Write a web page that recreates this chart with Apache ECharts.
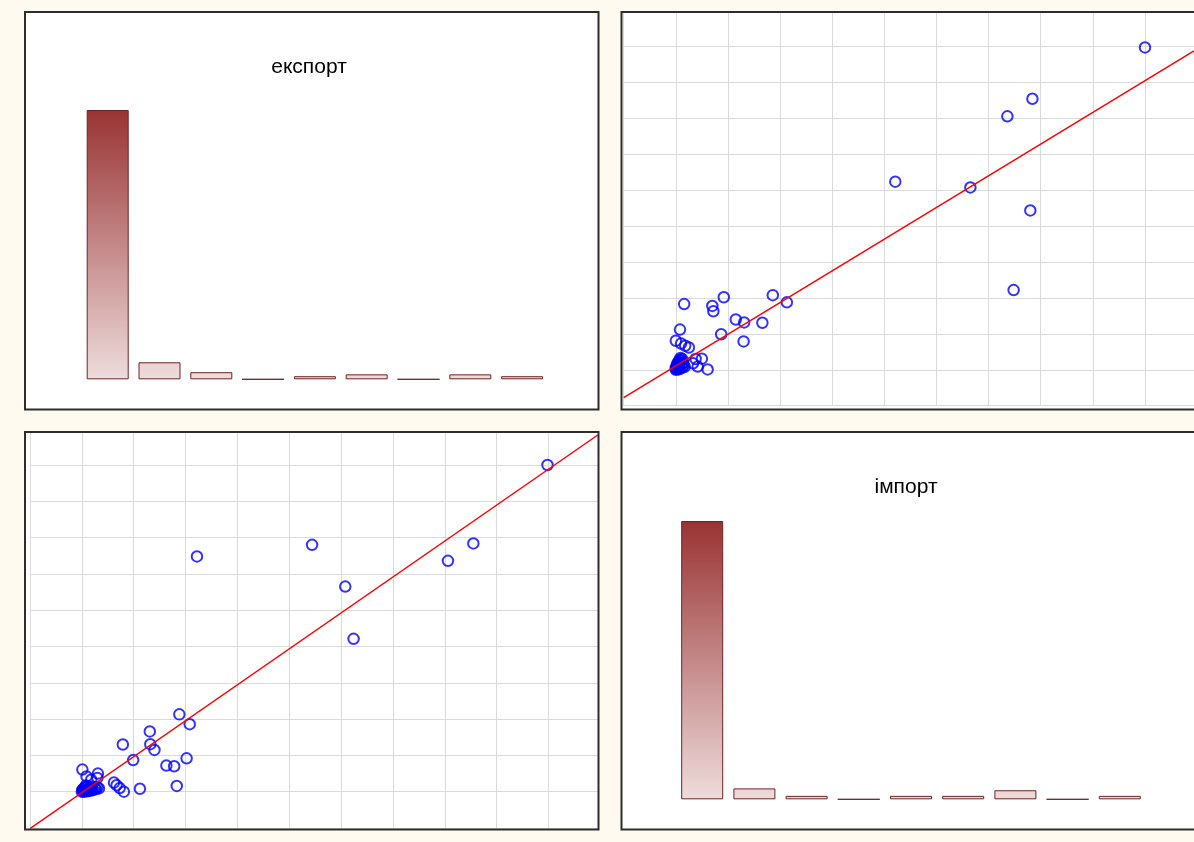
<!DOCTYPE html>
<html>
<head>
<meta charset="utf-8">
<script src="https://cdn.jsdelivr.net/npm/echarts@6/dist/echarts.min.js"></script>
<style>
  html, body { margin: 0; padding: 0; background: #fffaf0; }
  #chart { width: 1194px; height: 842px; }
</style>
</head>
<body>
<div id="chart"></div>
<script>
// histogram groups (no labels shown on the picture)
const groups = ['1', '2', '3', '4', '5', '6', '7', '8', '9'];
const exportShares = [87.1, 5.5, 2.3, 0, 1.0, 1.6, 0, 1.6, 1.0];
const importShares = [89.3, 3.5, 1.1, 0, 1.1, 1.1, 2.9, 0, 1.1];

// paired observations: export and import of each country
const exportVals = [
  8.98, 7.55, 7.06, 5.24, 5.08, 4.44, 2.22, 1.83, 1.78, 1.63,
  2.02, 2.08, 1.88, 1.12, 1.40, 1.32, 1.31, 0.99, 0.79, 0.81,
  0.73, 0.67, 0.62, 0.31, 0.30, 0.18, 0.09, 0.01,
  0.00, 0.02, 0.04, 0.05, 0.07, 0.09, 0.10, 0.12, 0.14, 0.16,
  0.18, 0.20, 0.22, 0.25, 0.27, 0.30, 0.33, 0.03, 0.06, 0.11,
  0.15, 0.08, 0.19, 0.01
];
const importVals = [
  9.00, 6.84, 6.36, 4.21, 5.65, 6.80, 6.48, 0.16, 0.70, 0.72,
  0.92, 1.86, 2.13, 0.08, 1.15, 1.31, 1.66, 0.87, 1.30, 0.00,
  0.10, 0.18, 0.25, 0.50, 0.38, 0.33, 0.42, 0.61,
  0.00, 0.01, 0.02, 0.00, 0.03, 0.01, 0.05, 0.02, 0.04, 0.06,
  0.03, 0.08, 0.05, 0.10, 0.07, 0.12, 0.09, 0.08, 0.12, 0.15,
  0.11, 0.17, 0.14, 0.05
];

// least squares lines: y = a + b * x
const fitExportOnImport = { a: 0.108, b: 0.883 };
const fitImportOnExport = { a: -0.025, b: 0.99 };

const trX = [-1, 9.94], trY = [-1, 9.95];
const blX = [-1, 9.95], blY = [-1, 9.9];

function fitLine(fit, ext) {
  return ext.map(x => [x, fit.a + fit.b * x]);
}

const chart = echarts.init(document.getElementById('chart'), null, { renderer: 'canvas' });

const barGradient = (top, bottom) => ({
  type: 'linear', x: 0, y: top, x2: 0, y2: bottom, global: true,
  colorStops: [
    { offset: 0, color: '#993333' },
    { offset: 1, color: '#eedcdc' }
  ]
});

const hiddenAxis = { axisLine: { show: false }, axisTick: { show: false }, axisLabel: { show: false } };
const gridAxis = (idx, ext) => Object.assign({
  type: 'value', gridIndex: idx, min: ext[0], max: ext[1], interval: 1,
  splitLine: { show: true, lineStyle: { color: '#dadada', width: 1 } }
}, hiddenAxis);

const panels = [
  { x: 25, y: 12, width: 573.5, height: 397.5 },
  { x: 621.5, y: 12, width: 600, height: 397.5 },
  { x: 25, y: 432, width: 573.5, height: 397.5 },
  { x: 621.5, y: 432, width: 600, height: 397.5 }
];

const graphic = [];
panels.forEach(p => {
  graphic.push({ type: 'rect', z: -10, shape: p, style: { fill: '#ffffff' }, silent: true });
  graphic.push({ type: 'rect', z: 100, shape: p, style: { fill: null, stroke: '#2d2d2d', lineWidth: 2 }, silent: true });
});
const titleFont = '21px "Liberation Sans", Arial, sans-serif';
graphic.push({ type: 'text', x: 309, y: 67, z: 50,
  style: { text: 'експорт', fill: '#000', font: titleFont, align: 'center', verticalAlign: 'middle' } });
graphic.push({ type: 'text', x: 906, y: 487, z: 50,
  style: { text: 'імпорт', fill: '#000', font: titleFont, align: 'center', verticalAlign: 'middle' } });

const circleStyle = { color: 'rgba(255,255,255,0)', borderColor: '#0000ff', borderWidth: 2 };

chart.setOption({
  backgroundColor: '#fffaf0',
  animation: false,
  graphic: graphic,
  grid: [
    { left: 81.8, top: 110, width: 466.2, height: 269.3 },
    { left: 676.1, top: 521, width: 469.8, height: 278.3 },
    { left: 623.7, top: 12.6, width: 572.2, height: 393.1 },
    { left: 30, top: 432.3, width: 567.8, height: 395.7 }
  ],
  xAxis: [
    Object.assign({ type: 'category', gridIndex: 0, data: groups }, hiddenAxis),
    Object.assign({ type: 'category', gridIndex: 1, data: groups }, hiddenAxis),
    gridAxis(2, trX),
    gridAxis(3, blX)
  ],
  yAxis: [
    Object.assign({ type: 'value', gridIndex: 0, min: 0, max: 'dataMax', splitLine: { show: false } }, hiddenAxis),
    Object.assign({ type: 'value', gridIndex: 1, min: 0, max: 'dataMax', splitLine: { show: false } }, hiddenAxis),
    gridAxis(2, trY),
    gridAxis(3, blY)
  ],
  series: [
    {
      type: 'bar', xAxisIndex: 0, yAxisIndex: 0, data: exportShares, barWidth: 42, silent: true,
      itemStyle: { color: barGradient(110, 379.3), borderColor: '#6e2424', borderWidth: 1 }
    },
    {
      type: 'bar', xAxisIndex: 1, yAxisIndex: 1, data: importShares, barWidth: 42, silent: true,
      itemStyle: { color: barGradient(521, 799.3), borderColor: '#6e2424', borderWidth: 1 }
    },
    {
      type: 'scatter', xAxisIndex: 2, yAxisIndex: 2, symbol: 'circle', symbolSize: 10.5, silent: true,
      data: importVals.map((v, i) => [v, exportVals[i]]), itemStyle: circleStyle, z: 2
    },
    {
      type: 'scatter', xAxisIndex: 3, yAxisIndex: 3, symbol: 'circle', symbolSize: 10.5, silent: true,
      data: exportVals.map((v, i) => [v, importVals[i]]), itemStyle: circleStyle, z: 2
    },
    {
      type: 'line', xAxisIndex: 2, yAxisIndex: 2, data: fitLine(fitExportOnImport, trX), symbol: 'none', silent: true,
      lineStyle: { color: '#ff0000', width: 1.5 }, z: 3
    },
    {
      type: 'line', xAxisIndex: 3, yAxisIndex: 3, data: fitLine(fitImportOnExport, blX), symbol: 'none', silent: true,
      lineStyle: { color: '#ff0000', width: 1.5 }, z: 3
    }
  ]
});
</script>
</body>
</html>
